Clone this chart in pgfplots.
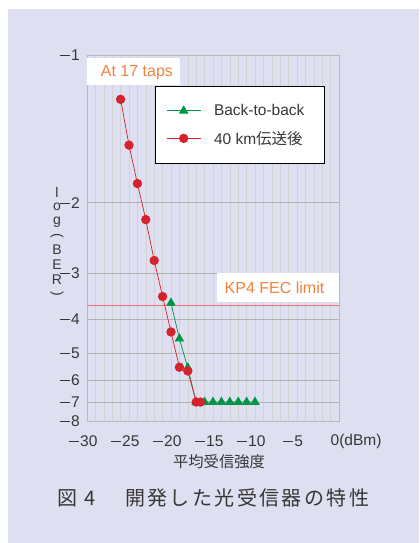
\documentclass[border=0pt]{standalone}
\usepackage{fontspec}
\usepackage{pgfplots}
\pgfplotsset{compat=1.18}
\setmainfont{Liberation Sans}
\newfontfamily\cjk{Noto Sans CJK JP}
\newfontfamily\cjkcap[LetterSpace=12]{Noto Sans CJK JP}

\definecolor{bglav}{RGB}{222,223,240}
\definecolor{ptgreen}{RGB}{0,148,70}
\definecolor{ptred}{RGB}{214,34,44}
\definecolor{lblorange}{RGB}{240,130,60}
\definecolor{fecline}{RGB}{240,115,115}
\definecolor{txtgray}{RGB}{55,55,55}

% wide minus as in the printed figure
\newcommand\mn{\rule[4.6bp]{10bp}{0.9bp}\hspace{1.6bp}}

\begin{document}
\begin{tikzpicture}[x=1bp,y=1bp]
\useasboundingbox (-87,-122) rectangle (332,421);
\fill[white] (-87,-122) rectangle (332,421);
\fill[bglav] (-79,-122) rectangle (332,412);

\begin{axis}[
    at={(0,0)}, anchor=south west,
    scale only axis,
    width=252bp, height=366bp,
    xmin=-30, xmax=0,
    ymin=-8, ymax=-1,
    % y axis is linear in log(Q): piecewise between the decades
    y coord trafo/.code={\pgfmathparse{-1000*(
        (#1>-2.0001) ? (0.10775+(-1-(#1))*0.25891) :
        ((#1>-3.0001) ? (0.36666+(-2-(#1))*0.12334) :
        ((#1>-4.0001) ? (0.49+(-3-(#1))*0.08043) :
        ((#1>-5.0001) ? (0.57043+(-4-(#1))*0.05949) :
        ((#1>-6.0001) ? (0.62992+(-5-(#1))*0.04709) :
        ((#1>-7.0001) ? (0.67701+(-6-(#1))*0.03893) :
        (0.71594+(-7-(#1))*0.03318)))))))}},
    xtick={-30,-25,-20,-15,-10,-5,0},
    xticklabels={\mn30,\mn25,\mn20,\mn15,\mn10,\mn5,0\rlap{(dBm)}},
    minor x tick num=4,
    ytick={-1,-2,-3,-4,-5,-6,-7,-8},
    yticklabels={\mn1,\mn2,\mn3,\mn4,\mn5,\mn6,\mn7,\mn8},
    tick style={draw=none},
    xmajorgrids, xminorgrids, ymajorgrids,
    major grid style={gray!35, line width=0.5pt},
    minor grid style={gray!35, line width=0.5pt},
    y grid style={gray!60, line width=0.5pt},
    axis line style={gray!55, line width=0.6pt},
    tick label style={font=\fontsize{15.5bp}{16bp}\selectfont, text=txtgray, inner sep=0pt},
    xticklabel style={anchor=center, yshift=-20bp, xshift=-4bp},
    yticklabel style={anchor=east, xshift=-7bp},
    legend style={at={(0.270,0.915)}, anchor=north west,
        draw=black, line width=0.6pt, fill=white,
        font=\fontsize{15.5bp}{16bp}\selectfont, text=txtgray,
        row sep=10bp, inner xsep=11bp, inner ysep=16bp},
    legend cell align=left,
    legend image code/.code={\draw[mark repeat=2,mark phase=2]
        plot coordinates {(0bp,0bp) (17bp,0bp) (34bp,0bp)};},
]
% white boxes behind the two labels
\fill[white] (rel axis cs:0,0.918) rectangle (rel axis cs:0.369,0.992);
\fill[white] (rel axis cs:0.516,0.325) rectangle (rel axis cs:1,0.404);
\node[text=lblorange, font=\fontsize{16bp}{16bp}\selectfont]
    at (rel axis cs:0.198,0.951) {At 17 taps};
\node[text=lblorange, font=\fontsize{16bp}{16bp}\selectfont]
    at (rel axis cs:0.744,0.363) {KP4 FEC limit};

% KP4 FEC limit
\addplot[draw=fecline, line width=0.7pt, mark=none, forget plot]
    coordinates {(-30,-3.7) (0,-3.7)};

\addplot[ptgreen, line width=0.7pt, mark=triangle*, mark size=4.8bp,
    mark options={solid}] coordinates {
    (-20,-3.65) (-19,-4.58) (-18,-5.55) (-17,-7) (-16,-7) (-15,-7)
    (-14,-7) (-13,-7) (-12,-7) (-11,-7) (-10,-7)
};
\addlegendentry{\hspace{11bp}Back-to-back\kern7bp}

\addplot[ptred, line width=0.7pt, mark=*, mark size=4.3bp,
    mark options={solid}] coordinates {
    (-26,-1.30) (-25,-1.61) (-24,-1.87) (-23,-2.24) (-22,-2.82)
    (-21,-3.51) (-20,-4.38) (-19,-5.53) (-18,-5.67) (-17,-7) (-16.5,-7)
};
\addlegendentry{\hspace{11bp}40 km{\cjk 伝送後}}
\end{axis}

% vertical axis label, one character per line as in vertical writing
\begin{scope}[every node/.style={font=\fontsize{14bp}{14bp}\selectfont,
    text=txtgray, inner sep=0pt}]
\node at (-30,229) {l};
\node at (-30,214) {o};
\node at (-30,199) {g};
\node[rotate=-90] at (-30,185) {(};
\node at (-30,171) {B};
\node at (-30,156) {E};
\node at (-30,141) {R};
\node[rotate=-90] at (-30,127) {)};
\end{scope}
% horizontal axis label
\node[font=\fontsize{15.3bp}{16bp}\cjk, text=txtgray] at (132,-41) {平均受信強度};
% caption
\node[anchor=west, inner sep=0pt, font=\fontsize{20bp}{20bp}\cjkcap, text=txtgray]
    at (-30,-77) {図 4};
\node[anchor=west, inner sep=0pt, font=\fontsize{20bp}{20bp}\cjkcap, text=txtgray]
    at (38,-77) {開発した光受信器の特性};
\end{tikzpicture}
\end{document}
